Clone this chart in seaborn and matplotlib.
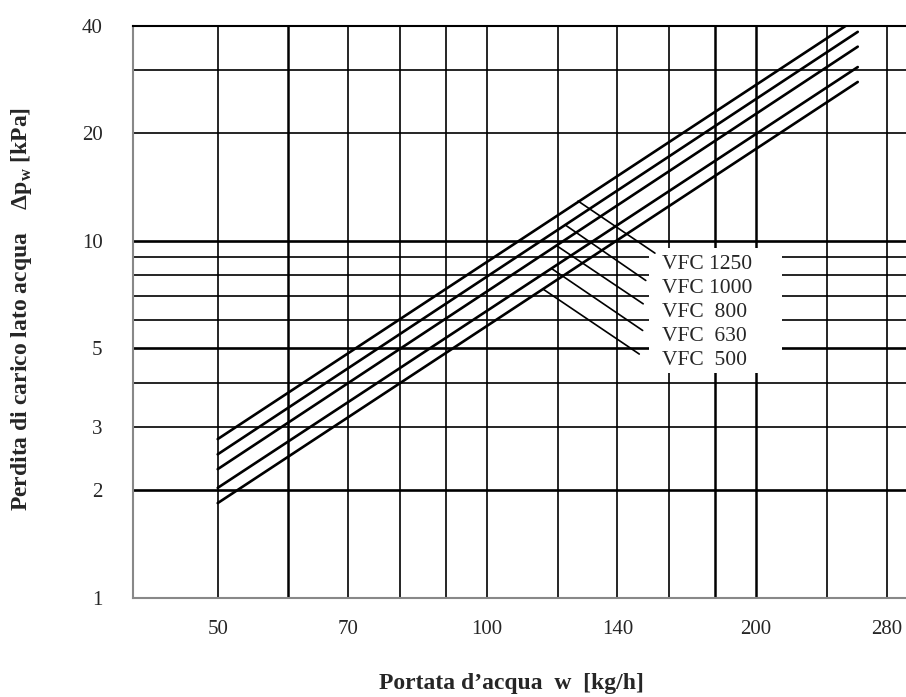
import pandas as pd
import matplotlib.pyplot as plt
import seaborn as sns
from matplotlib.patches import Rectangle

# curves: pressure drop at start/end flow (log-log straight lines)
models = ["VFC 1250", "VFC 1000", "VFC  800", "VFC  630", "VFC  500"]
flow_pts = [50, 260]
dp_start = [2.78, 2.52, 2.29, 2.03, 1.84]
dp_end = [42.0, 38.4, 34.9, 30.6, 27.8]

# leader lines from each curve to its label
lead_x0 = [126.5, 122.3, 119.8, 118.3, 115.6]
lead_y0 = [12.9, 11.07, 9.66, 8.33, 7.31]
lead_x1 = [154.2, 150.6, 149.6, 149.4, 148.1]
lead_y1 = [9.22, 7.73, 6.65, 5.60, 4.81]
label_x = 157
label_y = [8.55, 7.34, 6.30, 5.37, 4.60]

x_ticks = [50, 70, 100, 140, 200, 280]
y_ticks = [1, 2, 3, 5, 10, 20, 40]
x_grid = [50, 60, 70, 80, 90, 100, 120, 140, 160, 180, 200, 240, 280]
y_grid = [2, 3, 4, 5, 6, 7, 8, 9, 10, 20, 30]
x_thick = [60, 180, 200]
y_thick = [2, 5, 10]

rows = []
for m, a, b in zip(models, dp_start, dp_end):
    rows.append({"model": m, "flow": flow_pts[0], "dp": a})
    rows.append({"model": m, "flow": flow_pts[1], "dp": b})
df = pd.DataFrame(rows)

sns.set_style("white")
plt.rcParams['font.family'] = ['Liberation Serif', 'DejaVu Serif']
plt.rcParams['mathtext.fontset'] = 'custom'
plt.rcParams['mathtext.rm'] = 'Liberation Serif:bold'

fig = plt.figure(figsize=(9.06, 6.97), dpi=100)
ax = fig.add_axes([133 / 906, 0.1425, 773 / 906, 0.8209])
ax.set_xscale("log")
ax.set_yscale("log")
ax.set_xlim(40.2, 294.4)
ax.set_ylim(1, 40)

for v in x_grid:
    ax.axvline(v, color="black", lw=1.8 if v in x_thick else 1.2, zorder=1)
for v in y_grid:
    ax.axhline(v, color="black", lw=1.9 if v in y_thick else 1.2, zorder=1)

sns.lineplot(data=df, x="flow", y="dp", units="model", estimator=None,
             color="black", lw=1.9, ax=ax, zorder=2)

ax.add_patch(Rectangle((151.8, 4.26), 213.9 - 151.8, 9.54 - 4.26,
                       facecolor="white", edgecolor="none", zorder=3))
for i in range(len(models)):
    ax.plot([lead_x0[i], lead_x1[i]], [lead_y0[i], lead_y1[i]],
            color="black", lw=1.2, zorder=4)
    ax.text(label_x, label_y[i], models[i], fontsize=15.5, va="center",
            ha="left", zorder=5)

ax.set_xticks(x_ticks)
ax.set_xticklabels([str(t) for t in x_ticks])
ax.set_yticks(y_ticks)
ax.set_yticklabels([str(t) for t in y_ticks])
ax.minorticks_off()
ax.tick_params(axis="x", length=0, pad=16, labelsize=15)
ax.tick_params(axis="y", length=0, pad=22, labelsize=15)
ax.set_xlabel("")
ax.set_ylabel("")

ax.spines["right"].set_visible(False)
ax.spines["top"].set_color("black")
ax.spines["top"].set_linewidth(1.5)
for s in ["left", "bottom"]:
    ax.spines[s].set_color("#888888")
    ax.spines[s].set_linewidth(1.5)

fig.text(0.024, 0.556, "Perdita di carico lato acqua    Δp$_\\mathregular{w}$ [kPa]",
         rotation=90, ha="center", va="center", fontsize=17, fontweight="bold")
fig.text(511 / 906, 0.019, "Portata d\u2019acqua  w  [kg/h]",
         ha="center", va="center", fontsize=17, fontweight="bold")

fig.savefig("out.png", dpi=100)
